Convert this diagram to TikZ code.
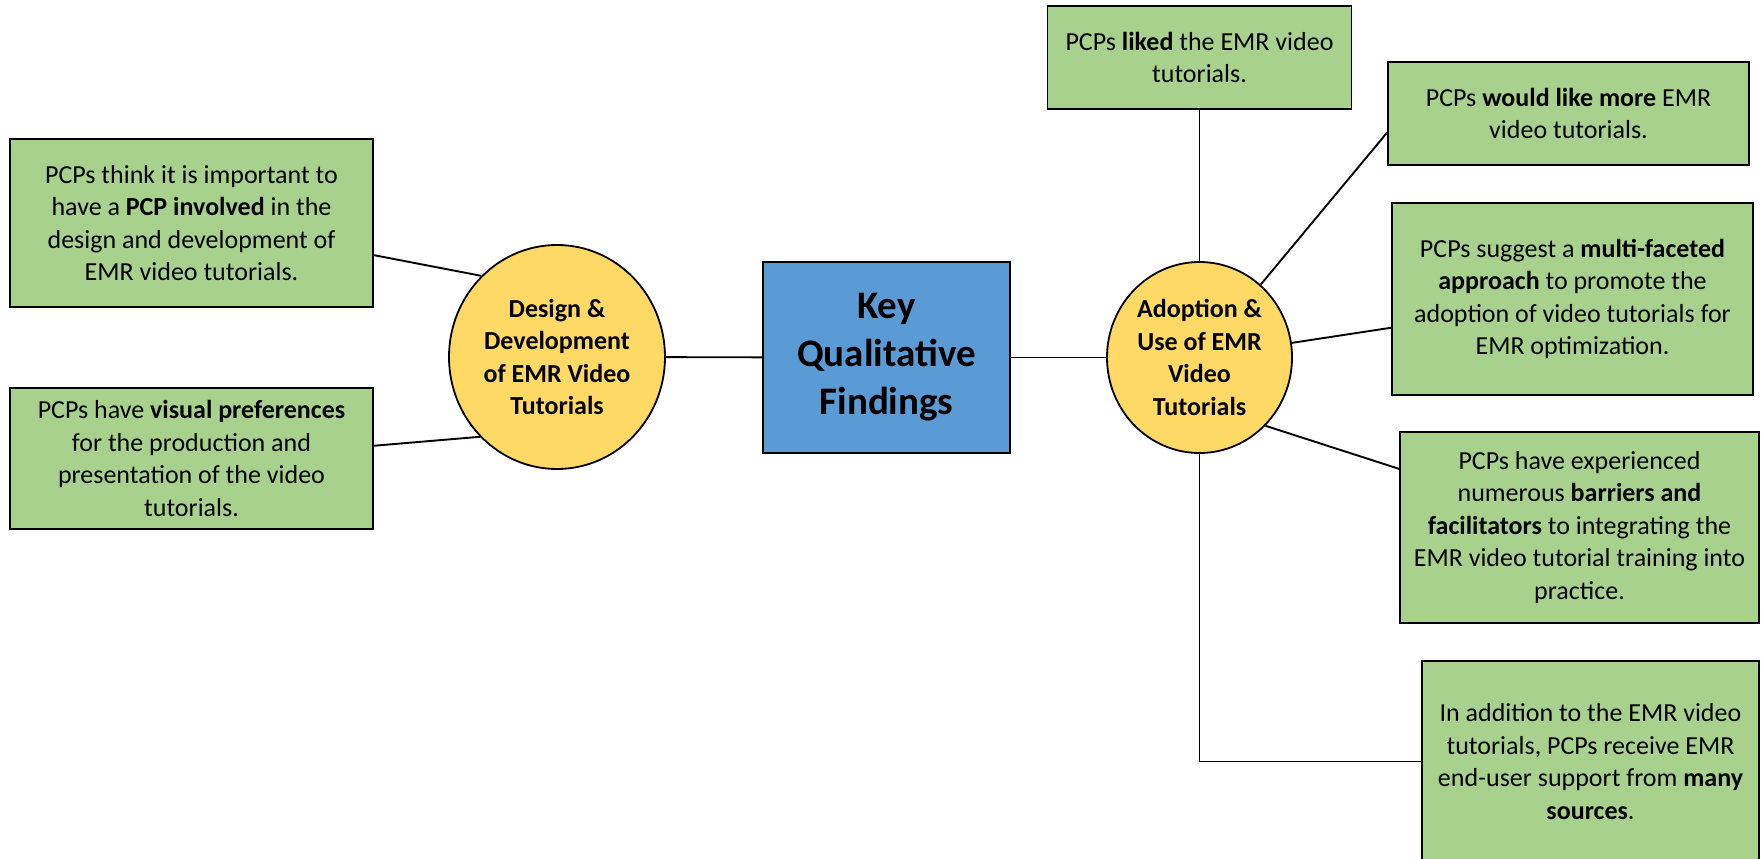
\documentclass[tikz,border=0pt]{standalone}
\usepackage{fontspec}
\setmainfont{Carlito}
\usetikzlibrary{shapes.geometric}
\definecolor{leaf}{HTML}{A9D18E}
\definecolor{gold}{HTML}{FFD966}
\definecolor{sky}{HTML}{5B9BD5}
\begin{document}
\begin{tikzpicture}[x=1pt,y=-1pt,
    box/.style={draw=black,line width=1.8pt,fill=leaf,inner sep=0pt,align=center,font=\fontsize{26}{32.5}\selectfont},
    hub/.style={ellipse,draw=black,line width=1.8pt,fill=gold,inner sep=0pt,align=center,font=\fontsize{26}{32.5}\selectfont\bfseries},
    core/.style={draw=black,line width=1.8pt,fill=sky,inner sep=0pt,align=center,minimum width=247pt,minimum height=191pt,font=\fontsize{39}{48}\selectfont\bfseries},
    link/.style={line width=1.9pt,draw=black}]
    \useasboundingbox (0,0) rectangle (1761,859);
    \node[core] (key) at (886.5,357.5) {Key\\Qualitative\\Findings};
    \node[hub,minimum width=216pt,minimum height=224pt] (design) at (557,357) {Design \&\\Development\\of EMR Video\\Tutorials};
    \node[hub,minimum width=185pt,minimum height=191pt] (adopt) at (1199.5,357.5) {Adoption \&\\Use of EMR\\Video\\Tutorials};
    \node[box,minimum width=363pt,minimum height=168pt] (involved) at (191.5,223) {PCPs think it is important to\\have a \textbf{PCP involved} in the\\design and development of\\EMR video tutorials.};
    \node[box,minimum width=363pt,minimum height=141pt] (visual) at (191.5,458.5) {PCPs have \textbf{visual preferences}\\for the production and\\presentation of the video\\tutorials.};
    \node[box,minimum width=304pt,minimum height=103pt] (liked) at (1199.5,57.5) {PCPs \textbf{liked} the EMR video\\tutorials.};
    \node[box,minimum width=361pt,minimum height=103pt] (more) at (1568.5,113.5) {PCPs \textbf{would like more} EMR\\video tutorials.};
    \node[box,minimum width=361pt,minimum height=192pt] (multi) at (1572.5,299) {PCPs suggest a \textbf{multi-faceted}\\\textbf{approach} to promote the\\adoption of video tutorials for\\EMR optimization.};
    \node[box,minimum width=359pt,minimum height=191pt] (barriers) at (1579.5,527.5) {PCPs have experienced\\numerous \textbf{barriers and}\\\textbf{facilitators} to integrating the\\EMR video tutorial training into\\practice.};
    \node[box,minimum width=337pt,minimum height=201pt] (sources) at (1590.5,761.5) {In addition to the EMR video\\tutorials, PCPs receive EMR\\end-user support from \textbf{many}\\\textbf{sources}.};
    \draw[link] (design) -- (key); \draw[link] (key) -- (adopt);
    \draw[link] (involved.-10.6) -- (design.133.5); \draw[link] (visual.4.6) -- (design.226);
    \draw[link] (liked) -- (adopt);
    \draw[link] (adopt.50) -- (more.186); \draw[link] (adopt.9) -- (multi.189); \draw[link] (adopt.-46) -- (barriers.162);
    \draw[link] (adopt.south) |- (sources.west);
\end{tikzpicture}
\end{document}
